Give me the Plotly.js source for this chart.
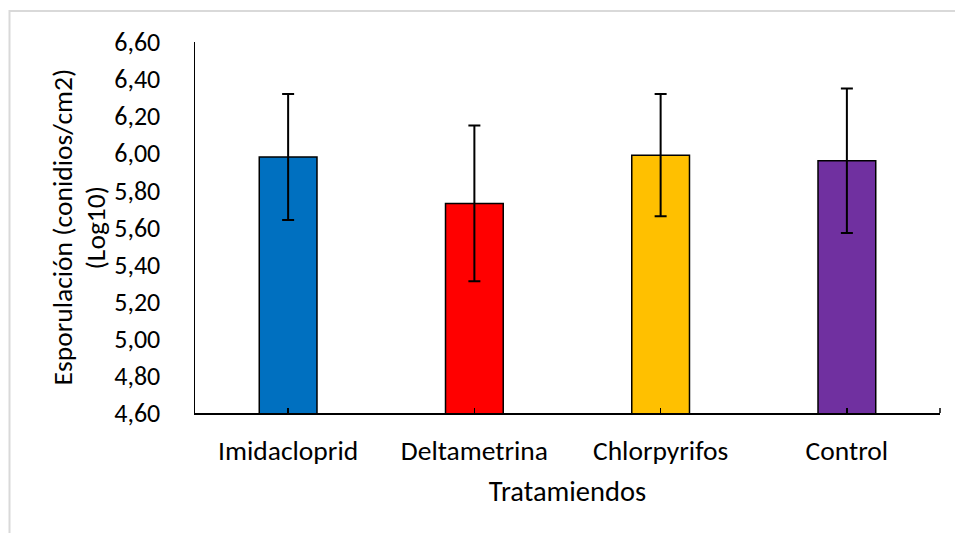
<!DOCTYPE html>
<html>
<head>
<meta charset="utf-8">
<script src="https://cdn.plot.ly/plotly-3.0.1.min.js"></script>
<style>html,body{margin:0;padding:0;background:#fff;}#chart{width:955px;height:533px;}</style>
</head>
<body>
<div id="chart"></div>
<script>
const categories = ["Imidacloprid", "Deltametrina", "Chlorpyrifos", "Control"];
const values = [5.98, 5.73, 5.99, 5.96];
const errors = [0.34, 0.42, 0.33, 0.39];
const colors = ["#0070C0", "#FF0000", "#FFC000", "#7030A0"];
const yTicks = [4.6, 4.8, 5.0, 5.2, 5.4, 5.6, 5.8, 6.0, 6.2, 6.4, 6.6];
const yTitleLines = ["Esporulación (conidios/cm2)", "(Log10)"];
const xTitle = "Tratamiendos";

const W = 955, H = 533;
const L = 195, R = 940, T = 42, B = 413;
const px = x => (x - L) / (R - L);
const py = y => (B - y) / (B - T);

const FONT = "Carlito, Lato, 'Open Sans', sans-serif";

const trace = {
  type: "bar",
  x: categories,
  y: values,
  base: 0,
  width: 0.31,
  marker: {color: colors, line: {color: "#000", width: 1.5}},
  error_y: {type: "data", array: errors, visible: true, color: "#000", thickness: 2, width: 6},
  hoverinfo: "x+y"
};

const layout = {
  width: W, height: H,
  margin: {l: L, r: W - R, t: T, b: H - B, pad: 0},
  paper_bgcolor: "#fff",
  plot_bgcolor: "#fff",
  separators: ",.",
  showlegend: false,
  font: {family: FONT, size: 26, color: "#000"},
  xaxis: {
    type: "category",
    showline: true, linecolor: "#000", linewidth: 1.5,
    ticks: "inside", ticklen: 5, tickcolor: "#000", tickwidth: 1.5,
    showgrid: false, zeroline: false,
    ticklabelstandoff: 12,
    tickfont: {family: FONT, size: 27.5, color: "#000"},
    title: {text: xTitle, font: {family: FONT, size: 28.5, color: "#000"}, standoff: 15},
    range: [-0.5, 3.5],
    automargin: false
  },
  yaxis: {
    range: [4.6, 6.6],
    tickmode: "array", tickvals: yTicks,
    tickformat: ".2f",
    showline: true, linecolor: "#000", linewidth: 1.5,
    ticks: "", showgrid: false, zeroline: false,
    ticklabelstandoff: 28,
    tickfont: {family: FONT, size: 26, color: "#000"},
    automargin: false
  },
  annotations: [
    {xref: "paper", yref: "paper", x: px(62), y: py(227.5), xanchor: "center", yanchor: "middle",
     text: yTitleLines[0], textangle: -90, showarrow: false, font: {family: FONT, size: 27.5, color: "#000"}},
    {xref: "paper", yref: "paper", x: px(95), y: py(227.5), xanchor: "center", yanchor: "middle",
     text: yTitleLines[1], textangle: -90, showarrow: false, font: {family: FONT, size: 27.5, color: "#000"}}
  ],
  shapes: [
    {type: "line", xref: "paper", yref: "paper", x0: 1, x1: 1, y0: 0, y1: py(408), line: {color: "#000", width: 1.5}},
    {type: "rect", xref: "paper", yref: "paper", x0: px(9.5), x1: px(975), y0: py(11), y1: py(560), line: {color: "#d9d9d9", width: 2}, layer: "below"}
  ]
};

Plotly.newPlot("chart", [trace], layout, {displayModeBar: false, staticPlot: true});
</script>
</body>
</html>
